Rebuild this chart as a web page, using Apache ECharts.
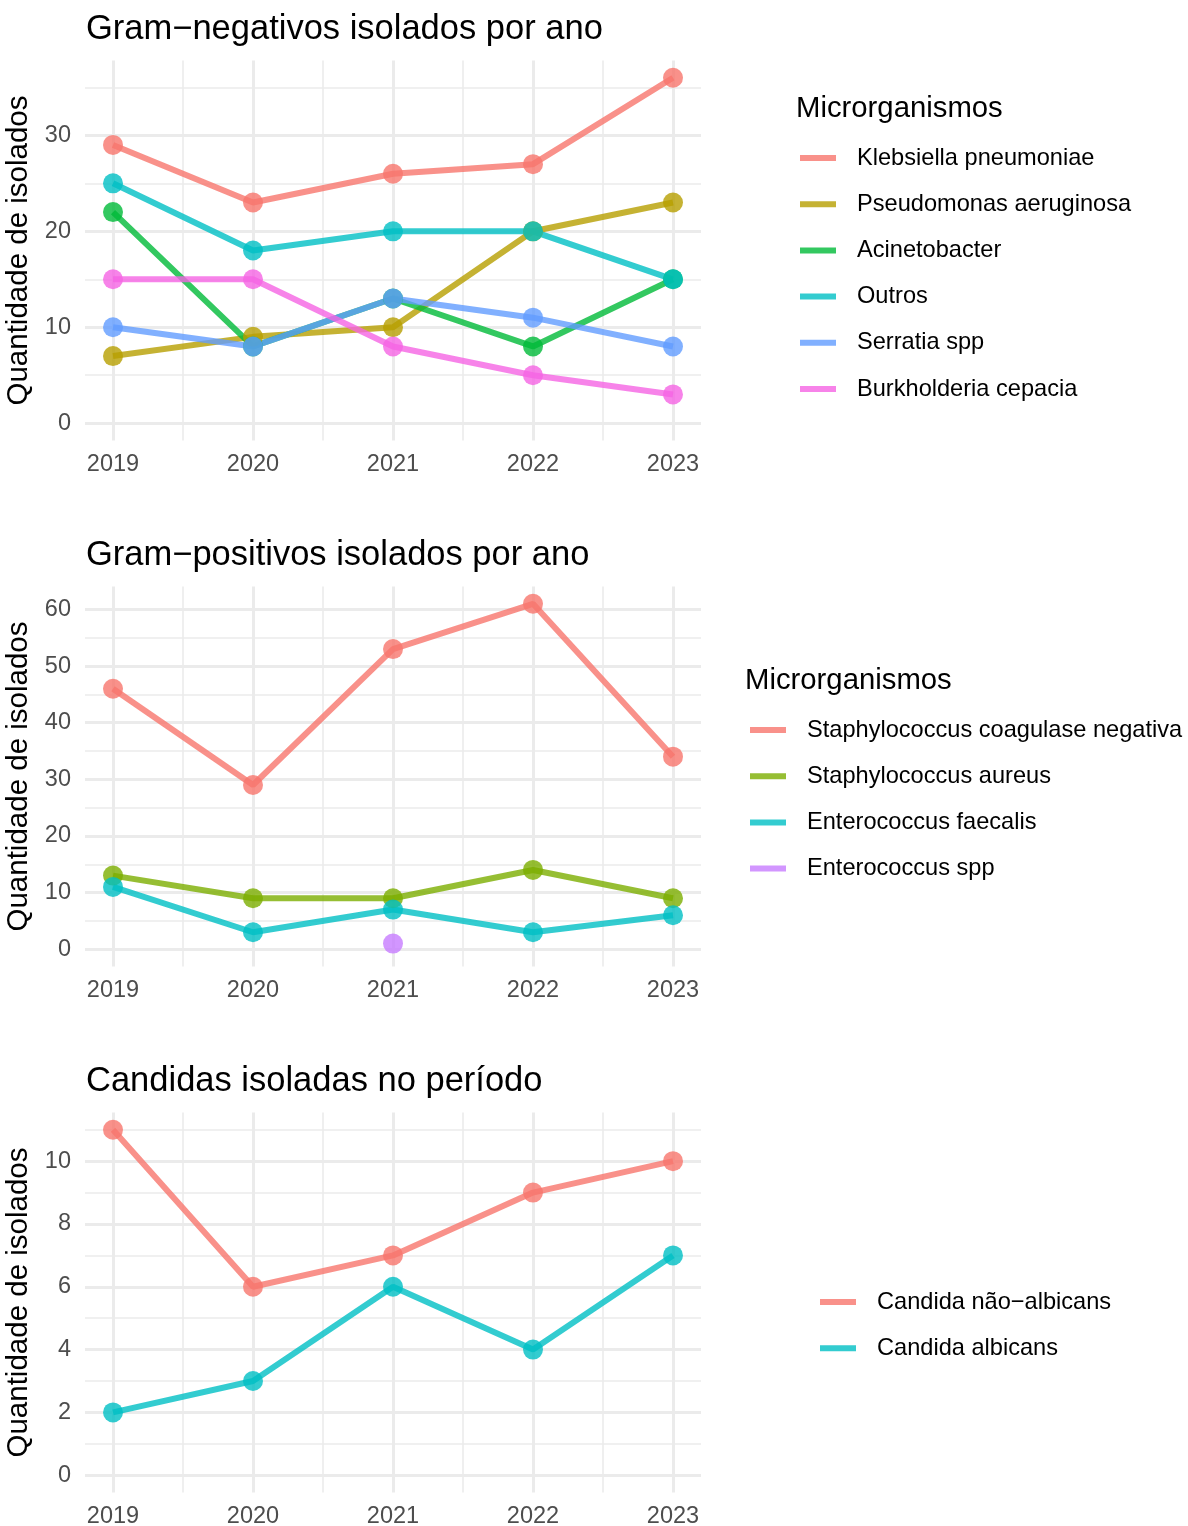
<!DOCTYPE html>
<html>
<head>
<meta charset="utf-8">
<script src="https://cdn.jsdelivr.net/npm/echarts@6/dist/echarts.min.js"></script>
<style>
  html, body { margin: 0; padding: 0; background: #fff; }
  #chart { width: 1188px; height: 1526px; }
</style>
</head>
<body>
<div id="chart"></div>
<script>
// anos e ticks
const years = [2019, 2020, 2021, 2022, 2023]
const minorYears = [2019.5, 2020.5, 2021.5, 2022.5]

// painel 1 - gram-negativos
const gnNames = ['Klebsiella pneumoniae', 'Pseudomonas aeruginosa', 'Acinetobacter', 'Outros', 'Serratia spp', 'Burkholderia cepacia']
const klebsiella = [29, 23, 26, 27, 36]
const pseudomonas = [7, 9, 10, 20, 23]
const acinetobacter = [22, 8, 13, 8, 15]
const outros = [25, 18, 20, 20, 15]
const serratia = [10, 8, 13, 11, 8]
const burkholderia = [15, 15, 8, 5, 3]
const gnTicks = [0, 10, 20, 30]
const gnMinor = [5, 15, 25, 35]

// painel 2 - gram-positivos
const gpNames = ['Staphylococcus coagulase negativa', 'Staphylococcus aureus', 'Enterococcus faecalis', 'Enterococcus spp']
const scn = [46, 29, 53, 61, 34]
const aureus = [13, 9, 9, 14, 9]
const faecalis = [11, 3, 7, 3, 6]
const enteroSppYears = [2021]
const enteroSpp = [1]
const gpTicks = [0, 10, 20, 30, 40, 50, 60]
const gpMinor = [5, 15, 25, 35, 45, 55]

// painel 3 - candidas
const cdNames = ['Candida não−albicans', 'Candida albicans']
const naoAlbicans = [11, 6, 7, 9, 10]
const albicans = [2, 3, 6, 4, 7]
const cdTicks = [0, 2, 4, 6, 8, 10]
const cdMinor = [1, 3, 5, 7, 9, 11]

const hue6 = ['rgba(248,118,109,0.8)', 'rgba(183,159,0,0.8)', 'rgba(0,186,56,0.8)', 'rgba(0,191,196,0.8)', 'rgba(97,156,255,0.8)', 'rgba(245,100,227,0.8)']
const hue4 = ['rgba(248,118,109,0.8)', 'rgba(124,174,0,0.8)', 'rgba(0,191,196,0.8)', 'rgba(199,124,255,0.8)']
const hue2 = ['rgba(248,118,109,0.8)', 'rgba(0,191,196,0.8)']

const FONT = 'Liberation Sans, Arial, sans-serif'
const GRID_COLOR = '#EBEBEB'

function pairs(xs, ys) {
  return xs.map((x, i) => [x, ys[i]])
}

function lineSeries(name, xs, ys, color, idx) {
  return {
    name: name,
    type: 'line',
    xAxisIndex: idx * 2,
    yAxisIndex: idx * 2,
    data: pairs(xs, ys),
    symbol: 'circle',
    symbolSize: 20,
    showSymbol: true,
    lineStyle: { color: color, width: 6 },
    itemStyle: { color: color, borderWidth: 0 },
    emphasis: { disabled: true },
    animation: false
  }
}

const grids = [
  { left: 85, top: 60.5, width: 616, height: 380, outerBoundsMode: 'none', containLabel: false },
  { left: 85, top: 586.5, width: 616, height: 380, outerBoundsMode: 'none', containLabel: false },
  { left: 85, top: 1112.5, width: 616, height: 380, outerBoundsMode: 'none', containLabel: false }
]
const yRanges = [[-1.8, 37.8], [-3.05, 64.05], [-0.55, 11.55]]
const yTicks = [gnTicks, gpTicks, cdTicks]
const yMinor = [gnMinor, gpMinor, cdMinor]

const xAxes = []
const yAxes = []
for (let i = 0; i < 3; i++) {
  // eixo principal
  xAxes.push({
    type: 'value', gridIndex: i, min: 2018.8, max: 2023.2,
    axisLine: { show: false },
    axisTick: { show: false, customValues: years },
    axisLabel: {
      customValues: years, margin: 12, color: '#4D4D4D', fontSize: 23.5, fontFamily: FONT,
      formatter: v => String(v)
    },
    splitLine: { show: true, lineStyle: { color: GRID_COLOR, width: 3 } }
  })
  // linhas secundarias
  xAxes.push({
    type: 'value', gridIndex: i, min: 2018.8, max: 2023.2,
    axisLine: { show: false },
    axisTick: { show: false, customValues: minorYears },
    axisLabel: { show: false },
    splitLine: { show: true, lineStyle: { color: GRID_COLOR, width: 1.6 } }
  })
  yAxes.push({
    type: 'value', gridIndex: i, min: yRanges[i][0], max: yRanges[i][1], position: 'left',
    name: 'Quantidade de isolados', nameLocation: 'middle', nameGap: 47,
    nameTextStyle: { color: '#000', fontSize: 29.5, fontFamily: FONT },
    axisLine: { show: false },
    axisTick: { show: false, customValues: yTicks[i] },
    axisLabel: { customValues: yTicks[i], margin: 14, color: '#4D4D4D', fontSize: 23.5, fontFamily: FONT, padding: [3, 0, 0, 0] },
    splitLine: { show: true, lineStyle: { color: GRID_COLOR, width: 3 } }
  })
  yAxes.push({
    type: 'value', gridIndex: i, min: yRanges[i][0], max: yRanges[i][1], position: 'left',
    axisLine: { show: false },
    axisTick: { show: false, customValues: yMinor[i] },
    axisLabel: { show: false },
    splitLine: { show: true, lineStyle: { color: GRID_COLOR, width: 1.6 } }
  })
}

const series = [
  lineSeries(gnNames[0], years, klebsiella, hue6[0], 0),
  lineSeries(gnNames[1], years, pseudomonas, hue6[1], 0),
  lineSeries(gnNames[2], years, acinetobacter, hue6[2], 0),
  lineSeries(gnNames[3], years, outros, hue6[3], 0),
  lineSeries(gnNames[4], years, serratia, hue6[4], 0),
  lineSeries(gnNames[5], years, burkholderia, hue6[5], 0),
  lineSeries(gpNames[0], years, scn, hue4[0], 1),
  lineSeries(gpNames[1], years, aureus, hue4[1], 1),
  lineSeries(gpNames[2], years, faecalis, hue4[2], 1),
  lineSeries(gpNames[3], enteroSppYears, enteroSpp, hue4[3], 1),
  lineSeries(cdNames[0], years, naoAlbicans, hue2[0], 2),
  lineSeries(cdNames[1], years, albicans, hue2[1], 2)
]

const legendIcon = 'path://M0,0L36,0L36,6L0,6Z M52,0'
function makeLegend(names, left, top) {
  return {
    data: names, orient: 'vertical', left: left, top: top, padding: 0,
    icon: legendIcon, itemWidth: 52, itemHeight: 6, itemGap: 22.2,
    itemStyle: { borderWidth: 0 },
    selectedMode: false,
    textStyle: { color: '#000', fontSize: 23.6, fontFamily: FONT, lineHeight: 24 }
  }
}

function makeTitle(text, left, top, size) {
  return { text: text, left: left, top: top, padding: 0,
    textStyle: { color: '#000', fontSize: size, fontWeight: 'normal', fontFamily: FONT } }
}

const chart = echarts.init(document.getElementById('chart'), null, { renderer: 'canvas' })
chart.setOption({
  backgroundColor: '#fff',
  animation: false,
  title: [
    makeTitle('Gram−negativos isolados por ano', 86, 12, 34.5),
    makeTitle('Gram−positivos isolados por ano', 86, 538, 34.5),
    makeTitle('Candidas isoladas no período', 86, 1064, 34.5),
    makeTitle('Microrganismos', 796, 94, 29.3),
    makeTitle('Microrganismos', 745, 666, 29.3)
  ],
  legend: [
    makeLegend(gnNames, 800, 146),
    makeLegend(gpNames, 750, 718),
    makeLegend(cdNames, 820, 1290)
  ],
  grid: grids,
  xAxis: xAxes,
  yAxis: yAxes,
  series: series
})
</script>
</body>
</html>
